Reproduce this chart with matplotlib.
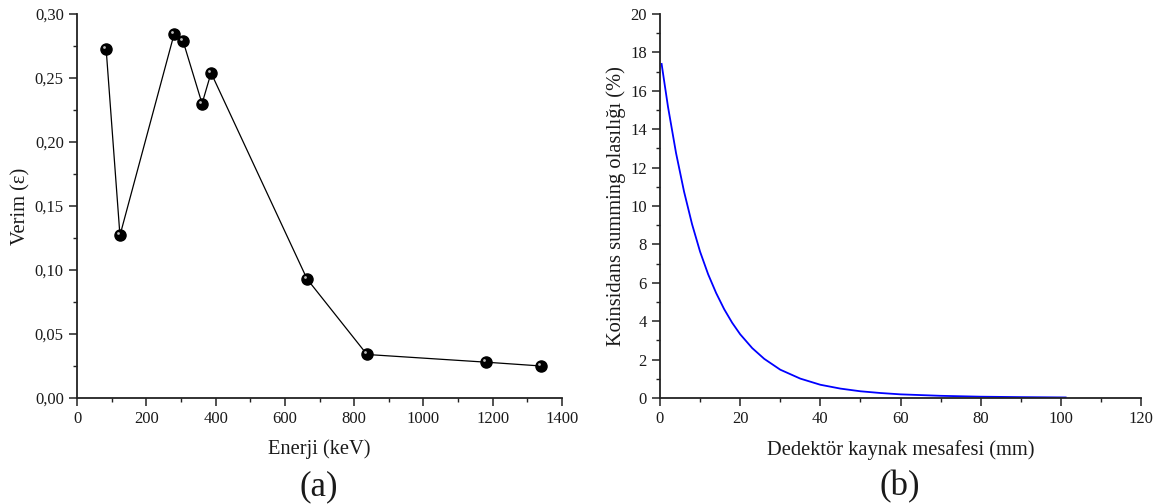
import matplotlib
matplotlib.use("Agg")
import matplotlib.pyplot as plt
from matplotlib.ticker import MultipleLocator, FuncFormatter
import matplotlib.transforms as mtransforms

plt.rcParams['font.family'] = ['Liberation Serif', 'DejaVu Serif']

# Panel (a): efficiency vs energy
energy_kev = [84, 124, 280, 306, 361, 387, 664, 837, 1180, 1340]
efficiency = [0.273, 0.127, 0.284, 0.279, 0.230, 0.254, 0.093, 0.034, 0.028, 0.025]

# Panel (b): coincidence summing probability vs distance
distance_mm = [0.4, 2, 4, 6, 8, 10, 12, 14, 16, 18, 20, 23, 26, 30, 35, 40, 45,
               50, 55, 60, 70, 80, 90, 101.2]
summing_pct = [17.4, 15.16, 12.76, 10.75, 9.05, 7.62, 6.45, 5.47, 4.63, 3.92, 3.32,
               2.60, 2.04, 1.475, 1.01, 0.69, 0.49, 0.35, 0.26, 0.19, 0.114, 0.068,
               0.046, 0.029]

W, H = 1168, 504
fig = plt.figure(figsize=(W / 100, H / 100), dpi=100)

def axes_px(x0, y0, x1, y1):
    return fig.add_axes([x0 / W, 1 - y1 / H, (x1 - x0) / W, (y1 - y0) / H])

axA = axes_px(77, 14, 562, 398)
axB = axes_px(660, 14, 1141, 398)

TXT = '#1a1a1a'
LBL = 14.8

for ax in (axA, axB):
    for s in ('top', 'right'):
        ax.spines[s].set_visible(False)
    for s in ('left', 'bottom'):
        ax.spines[s].set_linewidth(1.3)
        ax.spines[s].set_color('#222222')
    ax.tick_params(which='major', direction='out', length=5.5, width=1.1, pad=4,
                   labelsize=12, colors='#222222', labelcolor=TXT)
    ax.tick_params(which='minor', direction='out', length=3, width=1.0, colors='#222222')
    ax.set_facecolor('none')

# Panel (a)
axA.plot(energy_kev, efficiency, color='black', lw=0.9, zorder=2)
axA.plot(energy_kev, efficiency, ls='none', marker='o', ms=8,
         mfc='black', mec='black', zorder=3)
hl = mtransforms.offset_copy(axA.transData, fig=fig, x=-2.0, y=2.0, units='dots')
axA.plot(energy_kev, efficiency, ls='none', marker='o', ms=2.0,
         mfc='#bdbdbd', mec='none', transform=hl, zorder=4)
axA.set_xlim(0, 1400)
axA.set_ylim(0, 0.30)
axA.xaxis.set_major_locator(MultipleLocator(200))
axA.xaxis.set_minor_locator(MultipleLocator(100))
axA.yaxis.set_major_locator(MultipleLocator(0.05))
axA.yaxis.set_minor_locator(MultipleLocator(0.025))
axA.yaxis.set_major_formatter(FuncFormatter(lambda v, p: f"{v:.2f}".replace('.', ',')))
axA.set_xlabel('Enerji (keV)', fontsize=LBL, labelpad=9, color=TXT)
axA.set_ylabel('Verim (ε)', fontsize=LBL, labelpad=3, color=TXT)

# Panel (b)
axB.plot(distance_mm, summing_pct, color='#0000ff', lw=1.3)
axB.set_xlim(0, 120)
axB.set_ylim(0, 20)
axB.xaxis.set_major_locator(MultipleLocator(20))
axB.xaxis.set_minor_locator(MultipleLocator(10))
axB.yaxis.set_major_locator(MultipleLocator(2))
axB.yaxis.set_minor_locator(MultipleLocator(1))
axB.set_xlabel('Dedektör kaynak mesafesi (mm)', fontsize=LBL, labelpad=9, color=TXT)
axB.set_ylabel('Koinsidans summing olasılığı (%)', fontsize=LBL, labelpad=3, color=TXT)

fig.text(319 / W, 1 - 487 / H, '(a)', ha='center', va='center', fontsize=25, color=TXT)
fig.text(900 / W, 1 - 487 / H, '(b)', ha='center', va='center', fontsize=25, color=TXT)

fig.savefig('out.png', dpi=100, facecolor='white')
